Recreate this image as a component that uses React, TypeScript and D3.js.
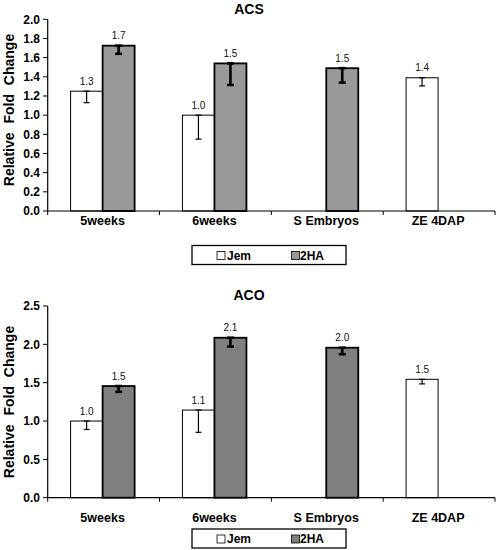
import React from "react";
import * as d3 from "d3";

const categories = ["5weeks", "6weeks", "S Embryos", "ZE 4DAP"];
const seriesNames = ["Jem", "2HA"];

const acsJem: (number | null)[] = [1.25, 1.0, null, 1.39];
const acsJemErr: (number | null)[] = [0.12, 0.25, null, 0.085];
const acs2HA: (number | null)[] = [1.725, 1.54, 1.49, null];
const acs2HAErr: (number | null)[] = [0.085, 0.225, 0.15, null];
const acsTicks = [0, 0.2, 0.4, 0.6, 0.8, 1.0, 1.2, 1.4, 1.6, 1.8, 2.0];

const acoJem: (number | null)[] = [1.0, 1.143, null, 1.544];
const acoJemErr: (number | null)[] = [0.11, 0.29, null, 0.06];
const aco2HA: (number | null)[] = [1.456, 2.086, 1.956, null];
const aco2HAErr: (number | null)[] = [0.075, 0.115, 0.085, null];
const acoTicks = [0, 0.5, 1.0, 1.5, 2.0, 2.5];

const FONT = "'Liberation Sans', Arial, Helvetica, sans-serif";

type PanelProps = {
  title: string;
  top: number;
  bottom: number;
  ymax: number;
  ticks: number[];
  jem: (number | null)[];
  jemErr: (number | null)[];
  ha: (number | null)[];
  haErr: (number | null)[];
  haFill: string;
  titleY: number;
  yTitleY: number;
  xLabelY: number;
  legendY: number;
};

function Panel(p: PanelProps) {
  const left = 47.7;
  const right = 495;
  const y = d3.scaleLinear().domain([0, p.ymax]).range([p.bottom, p.top]);
  const x0 = d3.scaleBand<string>().domain(categories).range([left, right]).padding(0);
  const x1 = d3.scaleBand<string>().domain(seriesNames).range([0, 64]).padding(0);
  const fmt = d3.format(".1f");
  const series = [
    { name: "Jem", vals: p.jem, errs: p.jemErr, fill: "#ffffff", sw: 1, ew: 1.2, cap: 6 },
    { name: "2HA", vals: p.ha, errs: p.haErr, fill: p.haFill, sw: 1.8, ew: 2.6, cap: 7 },
  ];
  const boundaries = [left, ...categories.map((c) => (x0(c) as number) + x0.bandwidth())];
  return (
    <g>
      <text x={249} y={p.titleY} textAnchor="middle" fontFamily={FONT} fontWeight="bold" fontSize={14}>
        {p.title}
      </text>
      <text
        transform={`translate(14,${p.yTitleY}) rotate(-90)`}
        textAnchor="middle"
        fontFamily={FONT}
        fontWeight="bold"
        fontSize={14}
        wordSpacing={5}
      >
        Relative Fold Change
      </text>
      {p.ticks.map((t) => (
        <g key={t}>
          <line x1={43} x2={left} y1={y(t)} y2={y(t)} stroke="#000" strokeWidth={1} />
          <text x={40} y={y(t) + 4.2} textAnchor="end" fontFamily={FONT} fontWeight="bold" fontSize={12}>
            {fmt(t)}
          </text>
        </g>
      ))}
      {series.map((s) =>
        categories.map((c, i) => {
          const v = s.vals[i];
          if (v == null) return null;
          const bx = (x0(c) as number) + x0.bandwidth() / 2 - 33 + (x1(s.name) as number);
          const bw = x1.bandwidth();
          const e = s.errs[i] ?? 0;
          const cx = bx + bw / 2;
          return (
            <g key={s.name + c}>
              <rect x={bx} y={y(v)} width={bw} height={y(0) - y(v)} fill={s.fill} stroke="#000" strokeWidth={s.sw} />
              <line x1={cx} x2={cx} y1={y(v)} y2={y(v - e)} stroke="#000" strokeWidth={s.ew} />
              <line x1={cx - s.cap / 2} x2={cx + s.cap / 2} y1={y(v - e)} y2={y(v - e)} stroke="#000" strokeWidth={s.ew} />
              <line x1={cx - s.cap / 2} x2={cx + s.cap / 2} y1={y(v)} y2={y(v)} stroke="#000" strokeWidth={s.ew} />
              <text x={cx} y={y(v) - 6.5} textAnchor="middle" fontFamily={FONT} fontSize={10} fill="#111">
                {fmt(v)}
              </text>
            </g>
          );
        })
      )}
      <line x1={left} x2={left} y1={p.top} y2={p.bottom} stroke="#000" strokeWidth={1.2} />
      <line x1={left} x2={right} y1={p.bottom} y2={p.bottom} stroke="#000" strokeWidth={1.2} />
      {boundaries.map((b, i) => (
        <line key={i} x1={b} x2={b} y1={p.bottom} y2={p.bottom + 4} stroke="#000" strokeWidth={1} />
      ))}
      {categories.map((c) => (
        <text
          key={c}
          x={(x0(c) as number) + x0.bandwidth() / 2 - 1}
          y={p.xLabelY}
          textAnchor="middle"
          fontFamily={FONT}
          fontWeight="bold"
          fontSize={12.5}
        >
          {c}
        </text>
      ))}
      <g transform={`translate(192,${p.legendY})`}>
        <rect x={0} y={0} width={154} height={19} fill="#fff" stroke="#000" strokeWidth={1.3} />
        <rect x={25} y={6} width={8} height={8} fill="#fff" stroke="#000" strokeWidth={0.8} />
        <text x={35} y={14} fontFamily={FONT} fontWeight="bold" fontSize={12}>
          Jem
        </text>
        <rect x={99.5} y={6} width={8} height={8} fill={p.haFill} stroke="#000" strokeWidth={0.8} />
        <text x={108} y={14} fontFamily={FONT} fontWeight="bold" fontSize={12}>
          2HA
        </text>
      </g>
    </g>
  );
}

export default function App() {
  return (
    <svg
      width={498}
      height={550}
      style={{ position: "absolute", left: 0, top: 0, background: "#fff" }}
    >
      <rect x={0} y={0} width={498} height={550} fill="#fff" />
      <Panel
        title="ACS"
        top={19.3}
        bottom={211}
        ymax={2.0}
        ticks={acsTicks}
        jem={acsJem}
        jemErr={acsJemErr}
        ha={acs2HA}
        haErr={acs2HAErr}
        haFill="#999999"
        titleY={13.5}
        yTitleY={110}
        xLabelY={224.5}
        legendY={245.5}
      />
      <Panel
        title="ACO"
        top={306}
        bottom={497.7}
        ymax={2.5}
        ticks={acoTicks}
        jem={acoJem}
        jemErr={acoJemErr}
        ha={aco2HA}
        haErr={aco2HAErr}
        haFill="#808080"
        titleY={300}
        yTitleY={402}
        xLabelY={521.5}
        legendY={529}
      />
    </svg>
  );
}
